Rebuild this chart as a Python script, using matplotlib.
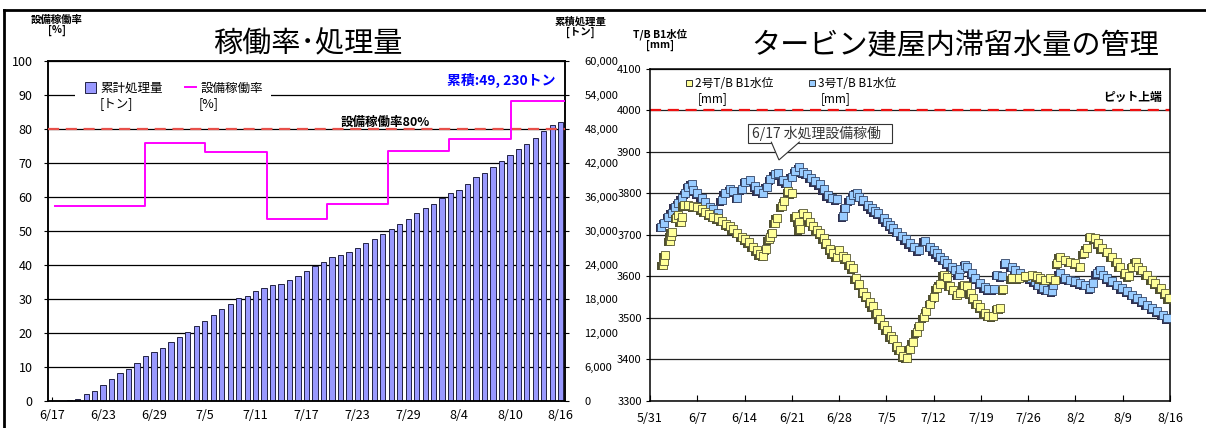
import numpy as np
import matplotlib
matplotlib.use("Agg")
import matplotlib.pyplot as plt
import matplotlib.transforms as mtransforms
from matplotlib.lines import Line2D
from matplotlib.patches import Patch, Rectangle, Polygon

plt.rcParams['font.family'] = ['Noto Sans CJK JP', 'DejaVu Sans']
plt.rcParams['font.size'] = 9

# ---- left chart: cumulative treated water (t) per day 6/17 .. 8/16
day_ticks_left = ['6/17', '6/23', '6/29', '7/5', '7/11', '7/17', '7/23', '7/29', '8/4', '8/10', '8/16']
treated_t = [0, 50, 200, 350, 1300, 1760, 2820, 3940, 4880, 5590,
             6760, 7880, 8590, 9290, 10350, 11240, 12240, 13240, 14180, 15180,
             16180, 17060, 18120, 18470, 19470, 19990, 20410, 20700, 21290, 22060,
             22900, 23820, 24600, 25440, 25800, 26280, 26940, 27840, 28620, 29520,
             30420, 31260, 32100, 33120, 34020, 34800, 35820, 36660, 37200, 38280,
             39480, 40320, 41280, 42420, 43380, 44460, 45420, 46500, 47640, 48780,
             49230]
# operating rate (%): value holds from the given day index
rate_from = [0.3, 11, 18, 25.3, 32.4, 39.6, 46.8, 54.1, 60.5]
rate_pct = [57.5, 75.9, 73.2, 53.6, 57.8, 73.6, 77.1, 88.1, 88.1]

# ---- right chart: B1 water level (mm), x = days since 5/31
day_ticks_right = ['5/31', '6/7', '6/14', '6/21', '6/28', '7/5', '7/12', '7/19', '7/26', '8/2', '8/9', '8/16']
u2_day = [1.9, 2.1, 2.2, 2.9, 3.1, 3.2, 3.9, 4.2, 4.6, 4.8, 5.0, 5.6, 6.4, 7.0, 7.7, 8.1,
          8.8, 9.4, 10.0, 10.6, 11.3, 11.8, 12.3, 12.9, 13.6, 14.1, 14.6, 15.2, 15.8, 16.3,
          16.8, 17.2, 17.6, 17.8, 18.1, 18.5, 18.8, 19.5, 19.9, 20.5, 21.0, 21.6, 22.0, 22.2,
          22.7, 23.2, 23.7, 24.2, 24.7, 25.2, 25.7, 26.1, 26.7, 27.1, 27.7, 28.0, 28.6, 29.0,
          29.6, 30.0, 30.5, 31.0, 31.6, 32.0, 32.6, 33.0, 33.6, 34.0, 34.6, 35.1, 35.7, 36.0,
          36.6, 37.0, 37.5, 38.0, 38.5, 38.9, 39.5, 39.9, 40.5, 40.9, 41.5, 42.0, 42.5, 42.9,
          43.5, 44.0, 44.4, 44.9, 45.5, 45.9, 46.5, 46.9, 47.5, 47.9, 48.4, 48.9, 49.6, 50.1,
          50.8, 51.4, 51.9, 52.3, 53.6, 54.6, 55.6, 56.6, 57.3, 57.8, 58.5, 59.3, 60.0, 60.3,
          60.7, 61.5, 62.2, 63.0, 63.7, 64.2, 64.7, 65.2, 65.9, 66.4, 66.9, 67.7, 68.4, 69.1,
          69.6, 70.4, 70.9, 71.4, 71.9, 72.3, 72.8, 73.6, 74.3, 74.8, 75.6, 76.3, 76.8]
u2_mm = [3628, 3638, 3652, 3686, 3698, 3708, 3742, 3748, 3732, 3744, 3772, 3772, 3770, 3768, 3762, 3756,
         3750, 3744, 3740, 3734, 3726, 3722, 3714, 3706, 3696, 3690, 3682, 3672, 3664, 3654,
         3650, 3666, 3690, 3694, 3706, 3730, 3742, 3770, 3782, 3806, 3800, 3746, 3732, 3714,
         3754, 3746, 3732, 3722, 3712, 3704, 3692, 3680, 3666, 3656, 3648, 3664, 3650, 3644,
         3628, 3620, 3596, 3582, 3562, 3552, 3538, 3528, 3512, 3498, 3484, 3472, 3456, 3450,
         3432, 3424, 3408, 3404, 3426, 3442, 3466, 3480, 3502, 3516, 3534, 3550, 3572, 3582,
         3604, 3598, 3578, 3568, 3556, 3560, 3580, 3576, 3560, 3548, 3534, 3526, 3512, 3506,
         3504, 3522, 3524, 3570, 3596, 3596, 3600, 3604, 3600, 3596, 3592, 3596, 3592, 3632,
         3648, 3640, 3636, 3632, 3624, 3656, 3668, 3696, 3692, 3680, 3668, 3660, 3648, 3636,
         3624, 3608, 3600, 3624, 3636, 3624, 3616, 3604, 3592, 3584, 3572, 3560, 3548]
u3_day = [1.7, 2.1, 2.7, 3.2, 3.7, 4.2, 4.7, 5.2, 5.7, 6.2, 6.4, 7.0, 7.7, 8.1, 8.9, 9.4,
          10.0, 10.6, 11.1, 11.9, 12.3, 12.9, 13.6, 14.1, 14.8, 15.6, 16.0, 16.8, 17.3, 17.8,
          18.5, 19.0, 19.7, 20.3, 21.0, 21.5, 22.1, 22.7, 23.2, 23.8, 24.4, 25.1, 25.7, 26.3,
          26.9, 27.7, 28.6, 28.9, 29.6, 30.1, 30.6, 31.0, 31.6, 32.3, 32.8, 33.3, 33.8, 34.6,
          35.1, 35.6, 36.0, 36.6, 37.3, 37.9, 38.5, 39.1, 39.8, 40.7, 41.5, 42.0, 42.5, 42.9,
          43.5, 44.0, 44.7, 45.2, 45.7, 45.9, 46.7, 46.9, 47.7, 48.1, 48.9, 49.6, 50.1, 50.9,
          51.4, 52.1, 52.6, 53.6, 54.1, 54.8, 55.6, 56.3, 57.0, 57.5, 58.2, 58.8, 59.6, 59.7,
          60.7, 61.5, 62.2, 63.0, 63.7, 64.4, 65.2, 65.6, 66.2, 66.7, 67.1, 67.7, 68.4, 69.2,
          69.9, 70.7, 71.4, 72.1, 72.9, 73.6, 74.4, 75.1, 75.9, 76.6]
u3_mm = [3720, 3730, 3744, 3754, 3768, 3776, 3788, 3800, 3816, 3824, 3808, 3800, 3788, 3780, 3768, 3762,
         3752, 3784, 3800, 3810, 3806, 3790, 3810, 3828, 3832, 3818, 3808, 3802, 3816, 3834,
         3846, 3850, 3832, 3826, 3840, 3854, 3864, 3852, 3848, 3838, 3830, 3822, 3810, 3796,
         3790, 3786, 3746, 3766, 3784, 3796, 3802, 3792, 3784, 3772, 3764, 3758, 3752, 3740,
         3732, 3724, 3716, 3708, 3698, 3690, 3680, 3672, 3664, 3686, 3672, 3664, 3656, 3648,
         3640, 3632, 3624, 3616, 3604, 3618, 3628, 3622, 3608, 3596, 3584, 3574, 3570, 3570,
         3604, 3600, 3632, 3624, 3616, 3608, 3600, 3596, 3588, 3580, 3572, 3568, 3564, 3580,
         3608, 3596, 3592, 3588, 3584, 3580, 3572, 3584, 3608, 3616, 3604, 3596, 3588, 3580,
         3572, 3564, 3556, 3548, 3540, 3532, 3524, 3516, 3508, 3500]

W, H = 1206, 428
fig = plt.figure(figsize=(W / 100, H / 100), dpi=100)

# outer frame (top and left edges visible)
fig.add_artist(Line2D([4 / W, 1], [1 - 10 / H, 1 - 10 / H], transform=fig.transFigure, color='black', lw=2))
fig.add_artist(Line2D([4 / W, 4 / W], [0, 1 - 10 / H], transform=fig.transFigure, color='black', lw=2))

# ================= left chart =================
axb = fig.add_axes([48 / W, 27 / H, 517 / W, 340 / H])
axp = axb.twinx()
x = np.arange(len(treated_t))
axb.bar(x, treated_t, width=0.62, color='#9999ff', edgecolor='#222244', linewidth=0.7, zorder=2)
axb.set_ylim(0, 60000)
axb.set_yticks(np.arange(0, 60001, 6000))
axb.set_yticklabels([f'{v:,}' for v in range(0, 60001, 6000)])
axb.set_xlim(-0.5, len(treated_t) - 0.5)
axb.set_xticks(np.arange(0, len(treated_t), 6))
axb.set_xticklabels(day_ticks_left)
axb.yaxis.tick_right()
axb.grid(axis='y', color='black', lw=0.9, zorder=0)
axb.set_axisbelow(True)
axb.tick_params(axis='x', length=3, direction='in', pad=6)
axb.tick_params(axis='y', length=3, pad=11, labelsize=8)

axp.yaxis.tick_left()
axp.set_ylim(0, 100)
axp.set_yticks(np.arange(0, 101, 10))
axp.tick_params(axis='y', length=3, pad=8)
axp.axhline(80, color='#e8504a', lw=1.6, ls=(0, (5, 3)), zorder=3)
axp.plot(rate_from, rate_pct, drawstyle='steps-post', color='#ff00ff', lw=1.4, zorder=4)
axp.text(0.652, 0.82, '設備稼働率80%', transform=axp.transAxes, ha='center', va='center',
         fontsize=9, fontweight='bold')
axp.text(0.981, 0.944, '累積:49, 230トン', transform=axp.transAxes, ha='right', va='center',
         fontsize=10, fontweight='bold', color='#0000ff')
# legend: white band over the 90% gridline, handles level with the first text line
axp.add_patch(Rectangle((0.052, 0.865), 0.38, 0.09, transform=axp.transAxes,
                        facecolor='white', edgecolor='none', zorder=5))
handles = [Patch(facecolor='#9999ff', edgecolor='#222244', lw=0.7),
           Line2D([], [], color='#ff00ff', lw=1.4)]
axp.legend(handles, ['累計処理量', '設備稼働率'], ncol=2, loc='upper left',
           bbox_to_anchor=(0.055, 0.965), frameon=False, fontsize=9, handlelength=0.9,
           handleheight=0.9, handletextpad=0.3, columnspacing=1.8, borderpad=0.2)
axp.text(0.1, 0.875, '[トン]', transform=axp.transAxes, ha='left', va='center', fontsize=9, zorder=6)
axp.text(0.291, 0.875, '[%]', transform=axp.transAxes, ha='left', va='center', fontsize=9, zorder=6)
for sp in list(axb.spines.values()) + list(axp.spines.values()):
    sp.set_linewidth(1.1)

fig.text(57 / W, 1 - 25 / H, '設備稼働率\n[%]', ha='center', va='center', fontsize=7.5,
         fontweight='bold', linespacing=1.0)
fig.text(580 / W, 1 - 27 / H, '累積処理量\n[トン]', ha='center', va='center', fontsize=7.5,
         fontweight='bold', linespacing=1.0)
fig.text(308 / W, 1 - 44 / H, '稼働率･処理量', ha='center', va='center', fontsize=21)

# ================= right chart =================
ax = fig.add_axes([650 / W, 27 / H, 520 / W, 332 / H])
ax.set_xlim(0, 77)
ax.set_ylim(3300, 4100)
ax.set_xticks(np.arange(0, 78, 7))
ax.set_xticklabels(day_ticks_right)
ax.set_yticks(np.arange(3300, 4101, 100))
ax.grid(axis='y', color='#222222', lw=0.9, zorder=0)
ax.set_axisbelow(True)
ax.axhline(4000, color='#ee1111', lw=1.6, ls=(0, (5, 3)), zorder=1)
ax.tick_params(axis='x', length=4, direction='in', pad=8)
ax.tick_params(axis='y', length=3, pad=3, labelsize=8)
for sp in ax.spines.values():
    sp.set_linewidth(1.1)

shadow = mtransforms.offset_copy(ax.transData, fig=fig, x=-1.6, y=-1.6, units='dots')
ax.scatter(u3_day, u3_mm, s=28, marker='s', color='#303050', transform=shadow, zorder=3, lw=0)
ax.scatter(u3_day, u3_mm, s=28, marker='s', facecolor='#99ccff', edgecolor='#334466', lw=0.6, zorder=4)
ax.scatter(u2_day, u2_mm, s=28, marker='s', color='#505030', transform=shadow, zorder=5, lw=0)
ax.scatter(u2_day, u2_mm, s=28, marker='s', facecolor='#ffff99', edgecolor='#555533', lw=0.6, zorder=6)

h2 = Line2D([], [], marker='s', ls='none', markersize=5, markerfacecolor='#ffff99', markeredgecolor='#333333', markeredgewidth=0.7)
h3 = Line2D([], [], marker='s', ls='none', markersize=5, markerfacecolor='#99ccff', markeredgecolor='#333333', markeredgewidth=0.7)
ax.legend([h2, h3], ['2号T/B B1水位', '3号T/B B1水位'], ncol=2, loc='upper left',
          bbox_to_anchor=(0.05, 1.005), frameon=False, fontsize=8.5, handlelength=0.6,
          handletextpad=0.2, columnspacing=3.0, borderpad=0.3)
ax.text(0.092, 0.912, '[mm]', transform=ax.transAxes, ha='left', va='center', fontsize=8.5)
ax.text(0.328, 0.912, '[mm]', transform=ax.transAxes, ha='left', va='center', fontsize=8.5)
ax.text(0.985, 0.915, 'ピット上端', transform=ax.transAxes, ha='right', va='center',
        fontsize=8.5, fontweight='bold')

# callout "6/17 水処理設備稼働"
ax.add_patch(Rectangle((0.188, 0.777), 0.277, 0.057, transform=ax.transAxes,
                       facecolor='white', edgecolor='#333333', lw=0.8, zorder=7))
ax.add_patch(Polygon([(0.233, 0.781), (0.248, 0.726), (0.288, 0.781)], closed=False,
                     transform=ax.transAxes, facecolor='white', edgecolor='#333333', lw=0.8, zorder=8))
ax.text(0.197, 0.806, '6/17 水処理設備稼働', transform=ax.transAxes, ha='left', va='center',
        fontsize=10, color='#333333', zorder=9)

fig.text(660 / W, 1 - 40 / H, 'T/B B1水位\n[mm]', ha='center', va='center', fontsize=7.5,
         fontweight='bold', linespacing=1.0)
fig.text(955 / W, 1 - 46 / H, 'タービン建屋内滞留水量の管理', ha='center', va='center', fontsize=21)

fig.savefig('out.png', dpi=100)
